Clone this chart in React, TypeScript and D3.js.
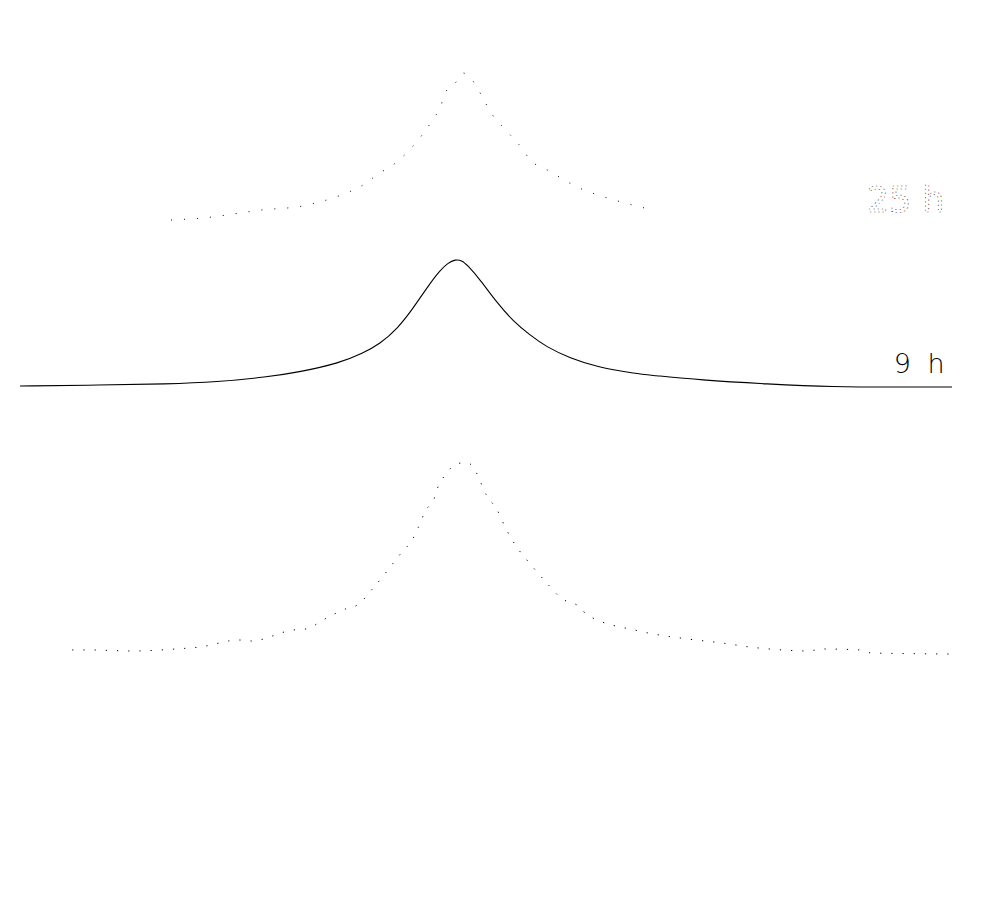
import React from "react";
import * as d3 from "d3";

// Waterfall of three peak profiles (x in arbitrary units 0..100)
const series25hX = [16.2, 19.6, 25.9, 30.3, 33.9, 35.3, 37.3, 38.4, 39.7, 44.2, 45.0, 45.8, 46.7, 47.5, 51.1, 52.1, 54.0, 54.8, 56.0, 60.5, 62.7, 64.9, 67.0];
const series25hY = [0.14, 0.43, 1.57, 2.14, 3.43, 4.14, 5.57, 6.71, 7.71, 14.29, 16.0, 18.71, 19.71, 21.14, 14.43, 13.0, 10.14, 8.57, 7.71, 4.43, 3.43, 2.57, 1.86];

const series9hX = [0.0, 8.6, 15.8, 21.1, 26.5, 30.0, 34.3, 36.8, 38.6, 40.5, 42.2, 44.0, 45.1, 45.9, 46.7, 47.4, 48.0, 49.4, 51.2, 52.9, 54.7, 56.5, 59.0, 61.9, 66.3, 67.6, 73.0, 80.2, 87.2, 94.4, 100.0];
const series9hY = [0, 0.14, 0.29, 0.57, 1.29, 2.0, 3.29, 4.71, 6.0, 8.2, 11.14, 14.71, 16.57, 17.57, 18.1, 17.96, 17.29, 15.14, 11.86, 9.3, 7.29, 5.57, 4.0, 2.71, 1.71, 1.57, 0.86, 0.29, -0.14, -0.14, -0.14];

const series1hX = [5.6, 7.4, 12.1, 16.7, 19.3, 23.5, 24.8, 29.3, 30.7, 32.7, 34.9, 36.2, 37.9, 40.9, 42.2, 42.7, 43.5, 44.5, 44.8, 47.4, 48.1, 48.6, 50.1, 51.2, 52.1, 53.6, 54.3, 56.8, 57.9, 60.3, 60.7, 66.4, 71.6, 75.3, 78.3, 81.8, 84.5, 86.2, 90.1, 91.3, 100.1];
const series1hY = [0.29, 0.29, 0.14, 0.43, 0.71, 1.71, 1.57, 3.14, 3.29, 4.71, 6.14, 6.71, 9.14, 14.14, 16.29, 17.71, 20.14, 22.14, 23.43, 27.0, 27.0, 26.43, 22.29, 20.29, 17.71, 14.43, 13.29, 9.43, 7.86, 6.14, 5.43, 3.0, 1.86, 1.29, 0.71, 0.29, 0.14, 0.43, 0.29, -0.14, -0.29];

const seriesLabels = ["25 h", "9 h"];
const seriesOffsets = [68.43, 44.85, 6.86];

const W = 982;
const H = 902;

export default function App() {
  const xScale = d3.scaleLinear().domain([0, 100]).range([20, 952]);
  const yScale = d3.scaleLinear().domain([0, 100]).range([700, 0]);

  const mk = (xs: number[], ys: number[], off: number, curve: d3.CurveFactory) => {
    const pts = xs.map((x, i) => [x, ys[i] + off] as [number, number]);
    return d3
      .line<[number, number]>()
      .x((d) => xScale(d[0]))
      .y((d) => yScale(d[1]))
      .curve(curve)(pts) as string;
  };

  const topPath = mk(series25hX, series25hY, seriesOffsets[0], d3.curveMonotoneX);
  const midPath = mk(series9hX, series9hY, seriesOffsets[1], d3.curveBasis);
  const botPath = mk(series1hX, series1hY, seriesOffsets[2], d3.curveMonotoneX);

  return (
    <svg
      width={W}
      height={H}
      style={{ position: "absolute", left: 0, top: 0, background: "#fff" }}
    >
      <rect x={0} y={0} width={W} height={H} fill="#fff" />
      <path d={topPath} fill="none" stroke="#000" strokeWidth={1} strokeDasharray="1 12" />
      <path d={midPath} fill="none" stroke="#000" strokeWidth={1.1} />
      <path d={botPath} fill="none" stroke="#000" strokeWidth={1} strokeDasharray="1.2 10" />
      <text
        x={xScale(99.2)}
        y={yScale(seriesOffsets[0]) - 9}
        textAnchor="end"
        fontFamily="DejaVu Sans, sans-serif"
        fontSize={35}
        fill="none"
        stroke="#000"
        strokeWidth={0.6}
        strokeDasharray="1.2 3"
      >
        {seriesLabels[0]}
      </text>
      <text
        x={xScale(99.2)}
        y={yScale(seriesOffsets[1]) - 13}
        textAnchor="end"
        fontFamily="DejaVu Sans, sans-serif"
        fontWeight={200}
        fontSize={27}
        fill="#000"
        wordSpacing={8}
      >
        {seriesLabels[1]}
      </text>
    </svg>
  );
}
